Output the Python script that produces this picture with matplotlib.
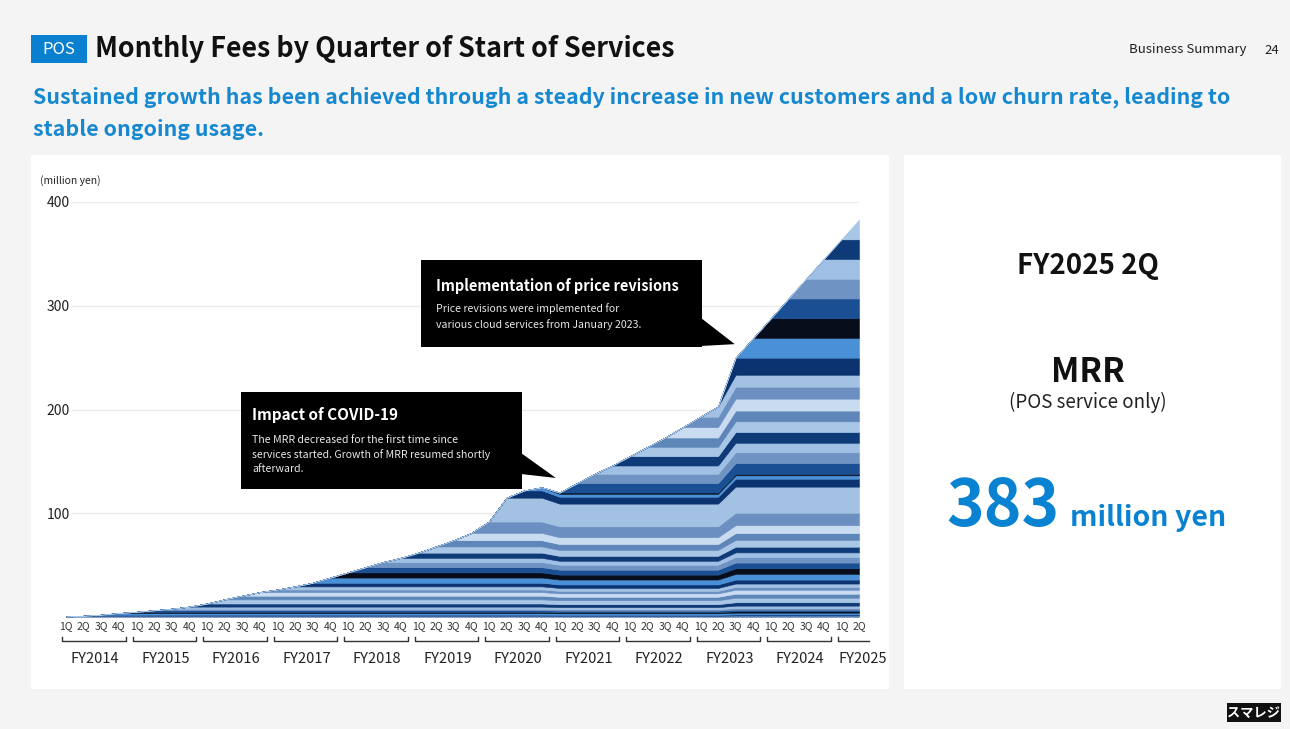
import matplotlib.pyplot as plt
from matplotlib.patches import Rectangle, Polygon
import numpy as np

plt.rcParams['font.family'] = ['Noto Sans CJK JP', 'DejaVu Sans']

# quarters FY2014 1Q .. FY2025 2Q
fiscal_years = ['FY2014', 'FY2015', 'FY2016', 'FY2017', 'FY2018', 'FY2019',
                'FY2020', 'FY2021', 'FY2022', 'FY2023', 'FY2024', 'FY2025']
quarter_names = ['1Q', '2Q', '3Q', '4Q']
quarter_labels = [q for fy in fiscal_years[:-1] for q in quarter_names] + ['1Q', '2Q']

# monthly fees brought in by each start-quarter cohort (million yen, pre-revision prices)
new_mrr = [0.5, 0.7, 1.0, 1.6, 1.2, 1.5, 1.5, 2.0,
           3.0, 4.0, 3.5, 3.5, 2.5, 3.0, 3.5, 5.0,
           5.0, 5.0, 5.0, 4.0, 5.0, 6.0, 6.0, 7.0,
           11.0, 23.0, 7.0, 3.0, 1.3, 9.5, 9.5, 8.4,
           9.5, 9.4, 9.5, 10.5, 10.6, 10.5, 15.1, 17.4,
           17.4, 17.4, 17.4, 17.4, 17.4, 17.4]

# fee level of active customers per quarter (COVID dip, price revision Jan 2023)
fee_level = [1.0] * 28 + [0.95] * 10 + [1.0925] * 8

band_colors = ['#6b8fc1', '#a3c1e3', '#0b336f', '#4a90d6', '#070d1b', '#1a4f94',
               '#6f93c2', '#9fc0e4', '#0e3a78', '#a8c6e6', '#5f86b8', '#c8dbf0']

n = len(quarter_labels)
x = np.arange(n)
level = np.array(fee_level)
cohorts = []
for k, size in enumerate(new_mrr):
    row = np.zeros(n)
    row[k:] = size * level[k:]
    cohorts.append(row)
total = np.sum(cohorts, axis=0)

W, H = 1290, 729
fig = plt.figure(figsize=(W / 100, H / 100), dpi=100, facecolor='#f4f4f4')


def px(xp, yp):
    return xp / W, 1 - yp / H


def fig_rect(x0, y0, x1, y1, **kw):
    fig.add_artist(Rectangle(px(x0, y1), (x1 - x0) / W, (y1 - y0) / H,
                             transform=fig.transFigure, **kw))


# white panels behind the chart
fig_rect(31, 155, 889, 689, facecolor='white', edgecolor='none', zorder=-5)
fig_rect(904, 155, 1281, 689, facecolor='white', edgecolor='none', zorder=-5)

# header
fig_rect(31, 35, 87, 63, facecolor='#0a7fd0', edgecolor='none')
fig.text(*px(59, 49.5), 'POS', color='white', fontsize=12, ha='center', va='center')
fig.text(*px(95, 49), 'Monthly Fees by Quarter of Start of Services', fontsize=19.3,
         fontweight='bold', color='#111111', va='center')
fig.text(*px(1129, 50), 'Business Summary', fontsize=9.5, color='#222222', va='center')
fig.text(*px(1264, 50), '24', fontsize=9.5, color='#222222', va='center')
fig.text(*px(33, 97), 'Sustained growth has been achieved through a steady increase in new '
         'customers and a low churn rate, leading to', fontsize=15.4, fontweight='bold',
         color='#1688d0', va='center')
fig.text(*px(33, 129), 'stable ongoing usage.', fontsize=15.4, fontweight='bold',
         color='#1688d0', va='center')

# stacked area chart
ax = fig.add_axes([66 / W, 1 - 617 / H, 793 / W, 415 / H])
yticks = [100, 200, 300, 400]
ax.hlines(yticks, 0.3, n - 1, color='#ebebeb', lw=1, zorder=0)
ax.stackplot(x, cohorts, colors=[band_colors[k % len(band_colors)] for k in range(n)],
             lw=0.4, edgecolor='face', zorder=2)
ax.set_xlim(0, n - 1)
ax.set_ylim(0, 400)
ax.set_facecolor('none')
for s in ax.spines.values():
    s.set_visible(False)
ax.set_yticks(yticks)
ax.tick_params(axis='y', length=0, labelsize=10, labelcolor='#222222', pad=-3)
ax.set_xticks(x)
ax.set_xticklabels(quarter_labels)
ax.tick_params(axis='x', length=0, labelsize=7.5, labelcolor='#333333', pad=3)
fig.text(*px(40, 181), '(million yen)', fontsize=7.5, color='#222222', va='center')

# fiscal-year brackets under the quarter labels
for j, fy in enumerate(fiscal_years):
    start = 4 * j
    nq = min(4, n - start)
    x0, x1 = start - 0.2, start + nq - 0.6
    yb, yt = -23, -19
    if nq == 4:
        ax.plot([x0, x0, x1, x1], [yt, yb, yb, yt], color='#333333', lw=1, clip_on=False)
        cx = start + 1.65
    else:
        x1 = start + nq - 0.45
        ax.plot([x0, x0, x1], [yt, yb, yb], color='#333333', lw=1, clip_on=False)
        cx = start + 1.2
    ax.text(cx, -40.5, fy, fontsize=10.5, color='#222222', ha='center', va='center',
            clip_on=False)


def callout(box, tip, title, body, title_size, body_size, base, inset, rows):
    x0, y0, x1, y1 = box
    fig_rect(x0, y0, x1, y1, facecolor='black', edgecolor='none', zorder=5)
    tip_fig = fig.transFigure.inverted().transform(ax.transData.transform(tip))
    fig.add_artist(Polygon([px(x1 - 1, base[0]), tuple(tip_fig), px(x1 - 1, base[1])],
                           closed=True, transform=fig.transFigure, facecolor='black',
                           edgecolor='none', zorder=5))
    fig.text(*px(x0 + inset, rows[0]), title, fontsize=title_size, fontweight='bold',
             color='white', va='center', zorder=6)
    for line, yr in zip(body, rows[1:]):
        fig.text(*px(x0 + inset, yr), line, fontsize=body_size,
                 color='#e8e8e8', va='center', zorder=6)


callout((241, 392, 522, 489), (27.8, 134), 'Impact of COVID-19',
        ['The MRR decreased for the first time since',
         'services started. Growth of MRR resumed shortly',
         'afterward.'], 11, 7.6, (453, 474), 11, (415, 440, 455, 469))
callout((421, 260, 702, 347), (37.95, 263), 'Implementation of price revisions',
        ['Price revisions were implemented for',
         'various cloud services from January 2023.'], 10.5, 7.6, (318, 346), 15,
        (286, 309, 325))

# right panel: latest MRR
fig.text(*px(1088, 266), 'FY2025 2Q', fontsize=20, fontweight='bold', color='#111111',
         ha='center', va='center')
fig.text(*px(1088, 373), 'MRR', fontsize=24, fontweight='bold', color='#111111',
         ha='center', va='center')
fig.text(*px(1088, 402), '(POS service only)', fontsize=13.5, color='#222222',
         ha='center', va='center')
fig.text(*px(1060, 507), f'{total[-1]:.0f}', fontsize=46, fontweight='bold',
         color='#0a82d2', ha='right', va='center')
fig.text(*px(1070, 518), 'million yen', fontsize=20.5, fontweight='bold',
         color='#0a82d2', ha='left', va='center')

# logo
fig_rect(1227, 703, 1281, 722, facecolor='#111111', edgecolor='none')
fig.text(*px(1254, 712.5), 'スマレジ', fontsize=9.5, fontweight='bold', color='white',
         ha='center', va='center')

fig.savefig('out.png', dpi=100, facecolor=fig.get_facecolor())
